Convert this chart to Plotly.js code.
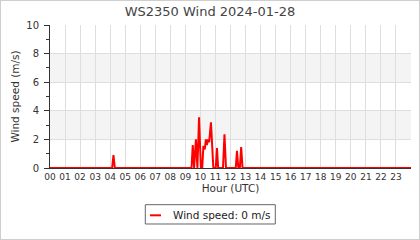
<!DOCTYPE html>
<html>
<head>
<meta charset="utf-8">
<script src="https://cdn.plot.ly/plotly-3.0.1.min.js"></script>
<style>
html,body{margin:0;padding:0;background:#fff;}
#chart{width:418px;height:238px;border:1px solid #cfcfcf;}
</style>
</head>
<body>
<div id="chart"></div>
<script>
// Data (hours UTC, wind speed m/s)
var hours = [0, 4.13, 4.22, 4.31, 9.41, 9.49, 9.58, 9.70, 9.80, 9.91, 10.03, 10.12, 10.20, 10.29, 10.36, 10.43, 10.50, 10.58, 10.70, 10.86, 11.02, 11.10, 11.18, 11.50, 11.60, 11.70, 12.35, 12.43, 12.52, 12.62, 12.71, 12.80, 24];
var windSpeed = [0, 0, 0.9, 0, 0, 1.6, 0, 2.0, 0, 3.55, 0, 0, 1.55, 1.3, 2.0, 1.6, 2.0, 1.8, 3.2, 0, 0, 1.4, 0, 0, 2.36, 0, 0, 1.2, 0, 0, 1.46, 0, 0];
var tickHours = [0,1,2,3,4,5,6,7,8,9,10,11,12,13,14,15,16,17,18,19,20,21,22,23];
var tickLabels = ["00","01","02","03","04","05","06","07","08","09","10","11","12","13","14","15","16","17","18","19","20","21","22","23"];
var bandRanges = [[2,4],[6,8]];
var seriesName = "Wind speed: 0 m/s";
var chartTitle = "WS2350 Wind 2024-01-28";

var font = "DejaVu Sans, sans-serif";
var shapes = bandRanges.map(function(b){
  return {type:'rect', xref:'paper', yref:'y', x0:0, x1:1, y0:b[0], y1:b[1],
          fillcolor:'#f4f4f4', line:{width:0}, layer:'below'};
});
// legend box and sample
shapes.push({type:'rect', xref:'paper', yref:'paper', x0:0.2640, x1:0.6241, y0:-0.2566, y1:-0.3916,
             line:{color:'#666', width:1}, fillcolor:'rgba(0,0,0,0)'});
shapes.push({type:'line', xref:'paper', yref:'paper', x0:0.2770, x1:0.3075, y0:-0.3308, y1:-0.3308,
             line:{color:'#ff0000', width:2}});

var trace = {
  x: hours, y: windSpeed, type:'scatter', mode:'lines', name: seriesName,
  line:{color:'#ff0000', width:2}, showlegend:false, hoverinfo:'skip'
};

var layout = {
  width:418, height:238,
  margin:{l:49, r:8, t:24, b:71, pad:0},
  paper_bgcolor:'#fff', plot_bgcolor:'#fff',
  font:{family:font, color:'#333', size:10},
  title:{text:chartTitle, x:0.5, xanchor:'center', y:0.955, yanchor:'middle', yref:'container',
         font:{family:font, size:13, color:'#444'}},
  xaxis:{range:[0,24], tickvals:tickHours, ticktext:tickLabels, ticks:'',
         showgrid:true, gridcolor:'#dedede', gridwidth:1,
         showline:true, linecolor:'#333', linewidth:1, zeroline:false,
         tickfont:{size:9, color:'#333'}, fixedrange:true,
         title:{text:'Hour (UTC)', standoff:3, font:{size:10.5, color:'#333'}}},
  yaxis:{range:[0,10], dtick:2, tick0:0, ticks:'outside', ticklen:5, tickcolor:'#333', tickwidth:1,
         minor:{dtick:1, ticks:'outside', ticklen:3, tickcolor:'#333', showgrid:false},
         showgrid:true, gridcolor:'#dedede', gridwidth:1,
         showline:true, linecolor:'#333', linewidth:1, zeroline:false,
         tickfont:{size:10, color:'#333'}, ticklabelstandoff:3, fixedrange:true,
         title:{text:'Wind speed (m/s)', standoff:4, font:{size:10.5, color:'#333'}}},
  shapes:shapes,
  annotations:[{xref:'paper', yref:'paper', x:0.3343, y:-0.3287, xanchor:'left', yanchor:'middle',
                text:seriesName, showarrow:false, font:{family:font, size:10.5, color:'#222'}}],
  showlegend:false
};

Plotly.newPlot('chart', [trace], layout, {displayModeBar:false, staticPlot:true});
</script>
</body>
</html>
